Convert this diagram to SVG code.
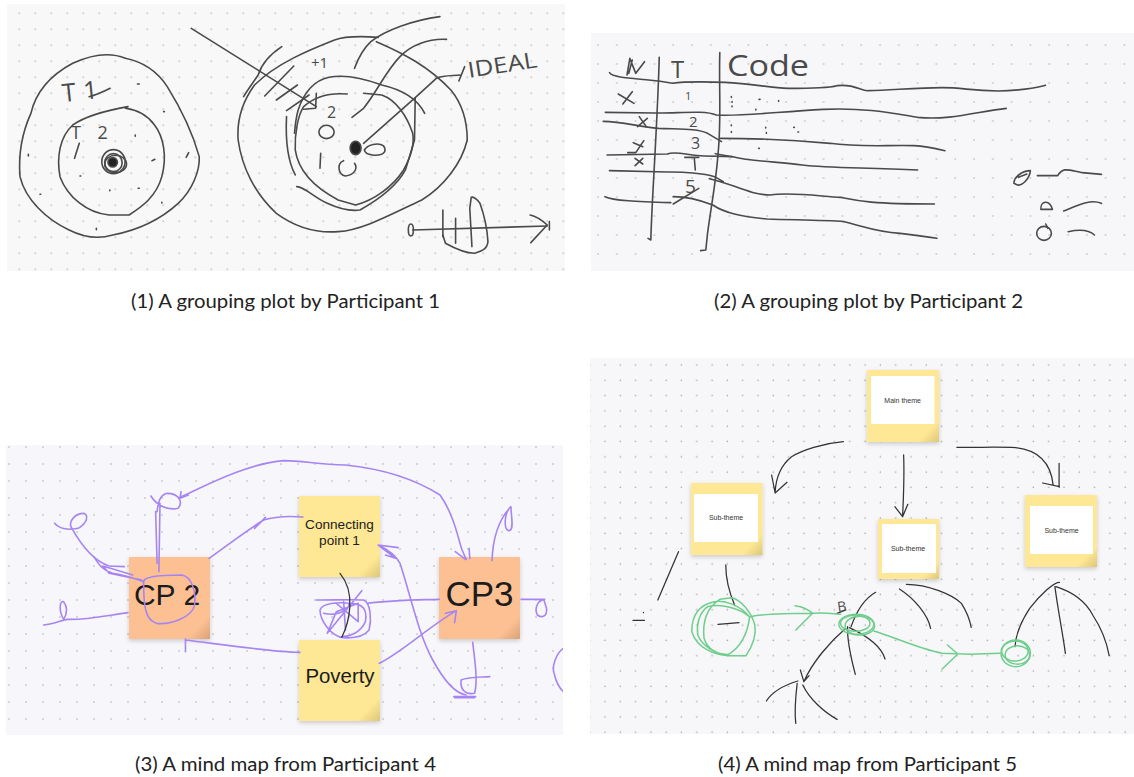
<svg xmlns="http://www.w3.org/2000/svg" width="1134" height="777" viewBox="0 0 1134 777">
<style>
.s path,.s ellipse{fill:none;vector-effect:non-scaling-stroke;stroke-linecap:round;stroke-linejoin:round}
.solid{fill:#222 !important}
.hand{stroke:#4a4a4a;stroke-width:1.6}
.k{stroke:#333;stroke-width:1.25}
.p{stroke:#a685f2;stroke-width:1.6}
.g{stroke:#6fce8c;stroke-width:1.5}
.ink{fill:none;vector-effect:non-scaling-stroke;stroke-linecap:round}
.cap{font-family:"Lato","Open Sans",sans-serif;font-size:18.5px;fill:#222}
.lab{font-family:"Liberation Sans",Arial,sans-serif;fill:#1c1c1c;text-anchor:middle}
.sub{font-family:"Liberation Sans",Arial,sans-serif;font-size:7px;fill:#333;text-anchor:middle}
.w{font-family:"Open Sans","Liberation Sans",sans-serif;font-weight:400;fill:#4a4a4a}
</style>
<defs>
<pattern id="d1" patternUnits="userSpaceOnUse" x="11.3" y="5.3" width="16" height="16"><circle cx="8" cy="8" r=".8" fill="#aaa"/></pattern>
<pattern id="d2" patternUnits="userSpaceOnUse" x="589" y="36" width="18.8" height="19"><circle cx="9" cy="9" r=".8" fill="#aaaaaf"/></pattern>
<pattern id="d3" patternUnits="userSpaceOnUse" x="1" y="439" width="17" height="17"><circle cx="8" cy="8" r=".8" fill="#aaaab2"/></pattern>
<pattern id="d4" patternUnits="userSpaceOnUse" x="597" y="357" width="15.3" height="15.3"><circle cx="8" cy="8" r=".8" fill="#aaaaaf"/></pattern>
<linearGradient id="fo" x1="0" y1="0" x2="1" y2="1"><stop offset=".85" stop-color="#fcc093"/><stop offset="1" stop-color="#d9a277"/></linearGradient>
<linearGradient id="fy" x1="0" y1="0" x2="1" y2="1"><stop offset=".85" stop-color="#fee795"/><stop offset="1" stop-color="#dcc878"/></linearGradient>
<filter id="sh" x="-10%" y="-10%" width="120%" height="125%"><feDropShadow dx="0" dy="2" stdDeviation="2" flood-color="#000" flood-opacity=".18"/></filter>
<clipPath id="c3"><rect x="6" y="445" width="557" height="290"/></clipPath>
</defs>
<rect width="1134" height="777" fill="#fff"/>

<g id="panel-1">
<rect x="7" y="4" width="558" height="267" fill="#f8f8f8"/>
<rect x="7" y="4" width="558" height="267" fill="url(#d1)"/>
<g class="s hand" transform="scale(.3636 .3333)">
<path d="M345 175C300 155 250 165 200 190C140 225 100 270 85 340C60 400 50 460 55 530C70 600 130 660 190 690C230 712 270 718 310 705C380 690 440 660 490 610C530 570 550 510 548 470C530 400 500 330 460 260C430 210 390 185 345 175"/>
<path d="M352 320C300 330 240 345 200 375C165 410 155 470 165 530C185 590 240 640 300 645H355C390 620 430 590 445 530C460 470 450 410 425 375C405 345 380 330 345 325"/>
<path d="M245 290C265 285 285 275 303 265M218 430L205 475"/>
<ellipse cx="312" cy="485" rx="32" ry="36"/><ellipse cx="312" cy="488" rx="24" ry="27"/><ellipse cx="318" cy="492" rx="30" ry="26"/><ellipse class="solid" cx="310" cy="487" rx="13" ry="14"/>
<path d="M378 252h5M78 463v5M372 405v4M418 482l8-4M512 472l7-14M220 528h2M302 570v2M380 565h3M445 607v2M110 583h2M265 685v4M450 335h2"/>
<path d="M1040 112C990 108 950 108 920 120C850 150 760 190 700 255C670 300 650 350 655 420C665 500 700 580 760 640C810 680 870 700 930 695C1000 690 1080 640 1160 600C1220 560 1270 490 1285 420C1285 360 1270 310 1240 270C1180 200 1110 160 1035 125"/>
<path d="M1168 340C1150 300 1110 270 1050 255C1000 235 950 222 905 232C870 240 840 265 820 330C815 350 812 370 810 400"/>
<path d="M788 350C785 420 790 480 812 525"/>
<path d="M955 282C910 278 870 285 835 320C820 345 810 400 812 450C820 510 860 560 930 600L978 615C1030 600 1080 560 1110 510C1130 470 1140 430 1135 400C1120 350 1090 300 1050 285L1000 280"/>
<path d="M816 560C840 562 860 590 900 610C930 625 960 635 990 630C1040 600 1090 560 1115 510L1140 420L1142 293"/>
<path d="M1000 430L1142 293L1200 235C1220 225 1250 228 1265 225M1262 243L1278 200"/>
<path d="M526 85L870 320M870 280L868 325L835 328"/>
<path d="M775 140C740 165 720 190 710 225C695 250 680 270 670 290M808 198L728 288M818 255L760 300M850 285L788 332"/>
<path d="M1210 50C1140 60 1060 90 1020 125C1000 145 985 175 975 205M1228 118C1180 115 1130 135 1100 170C1060 215 1040 270 1000 325L968 352"/>
<ellipse cx="898" cy="396" rx="21" ry="20"/><path d="M1055 438C1040 425 1010 435 1002 450C1005 470 1050 470 1058 455C1060 448 1058 442 1055 438"/>
<path d="M882 460L880 505M945 482C925 490 930 525 950 528C975 525 985 505 975 490"/>
<ellipse class="solid" cx="978" cy="444" rx="15" ry="20"/>
<path d="M1135 690L1505 678"/><ellipse cx="1130" cy="690" rx="7" ry="18"/>
<path d="M1458 645C1480 650 1495 665 1505 675L1460 728M1511 665V690M1218 630V710M1253 655V730"/>
<path d="M1218 705L1225 730C1250 745 1280 760 1305 760C1320 755 1340 750 1342 725C1340 690 1330 640 1320 610C1310 595 1300 590 1296 592L1292 625L1298 740"/>
</g>
<text class="w" x="63" y="102" font-size="25" word-spacing="1" transform="rotate(-6 63 102)">T 1</text>
<text class="w" x="71" y="139" font-size="18" word-spacing="12">T 2</text>
<text class="w" x="311" y="68" font-size="15">+1</text>
<text class="w" x="327" y="118" font-size="16">2</text>
<text class="w" x="469" y="78" font-size="22" textLength="70" lengthAdjust="spacingAndGlyphs" transform="rotate(-9 469 78)">IDEAL</text>
</g>

<g id="panel-2">
<rect x="591" y="33" width="543" height="238" fill="#f7f7f9"/>
<rect x="591" y="33" width="543" height="238" fill="url(#d2)"/>
<g class="s hand" transform="translate(585 20) scale(.35014 .33333)">
<path d="M212 112C210 200 205 300 200 400C195 500 190 580 188 660L180 655"/>
<path d="M385 98C382 200 390 300 380 400C375 480 360 560 350 640L345 690L330 692"/>
<path d="M70 158C80 175 150 175 210 183L250 190C280 185 340 185 400 187C480 190 530 205 580 205C630 205 690 205 720 197C770 190 790 215 810 212C880 210 950 203 1020 203C1080 203 1100 212 1180 213C1230 212 1290 205 1315 196"/>
<path d="M58 277L200 279C270 280 340 270 375 285C450 290 550 275 680 268C800 262 880 280 950 292C1040 302 1120 275 1203 265"/>
<path d="M52 304C110 305 150 320 210 325C270 328 320 325 350 340L390 365"/>
<path d="M385 355C480 355 600 360 700 370C780 382 860 375 940 377C970 378 1000 385 1028 392"/>
<path d="M63 405L235 402C260 392 300 408 340 408L422 410C480 425 550 425 620 435C700 445 800 442 950 450"/>
<path d="M372 401L420 410"/>
<path d="M70 452L235 456C280 455 340 460 370 470L395 485M355 476C420 490 470 525 530 525C590 515 680 530 730 532C770 540 800 552 998 552"/>
<path d="M57 530C80 542 150 545 245 548M252 530C300 530 340 545 365 555C400 580 450 590 520 597C600 600 680 600 740 605C800 620 830 635 900 640C940 645 975 650 1005 655"/>
<path d="M95 222L140 250M135 215L108 252M150 320L178 295M155 290L175 320M138 368L165 380M168 362L145 398L122 398M143 415L165 432M165 415L143 437"/>
<path d="M120 165L128 115L145 160L170 125M135 120L125 160"/>
<path d="M285 412H325M312 412L315 450"/>
<path d="M252 552L325 505"/>
<path d="M1225 490C1225 470 1250 452 1272 452C1270 475 1250 498 1235 495ZM1238 472L1262 462M1292 467L1350 467C1365 440 1380 450 1420 458L1475 463"/>
<path d="M1302 568C1300 545 1325 535 1335 568ZM1367 573C1400 560 1440 535 1475 550"/>
<ellipse cx="1311" cy="640" rx="21" ry="21"/><path d="M1316 612L1322 625M1380 635C1410 628 1440 630 1455 645"/>
<path d="M418 230v2M420 245v2M420 258v2M497 238h3M553 242v2M488 268v2M418 315v2M418 335v2M516 322v2M518 338v2M596 322h2M608 336h2M496 385h2"/>
</g>
<text class="w" x="671" y="78" font-size="24">T</text>
<text class="w" x="727" y="76" font-size="30" textLength="82" lengthAdjust="spacingAndGlyphs">Code</text>
<text class="w" x="685" y="100" font-size="11">1</text>
<text class="w" x="689" y="127" font-size="15">2</text>
<text class="w" x="691" y="149" font-size="16">3</text>
<text class="w" x="685" y="193" font-size="19">5</text>
</g>

<g id="panel-3">
<rect x="6" y="445" width="557" height="290" fill="#f7f7fb"/>
<rect x="6" y="445" width="557" height="290" fill="url(#d3)"/>
<g id="node-cp2"><rect x="129" y="557" width="81" height="82" fill="url(#fo)" filter="url(#sh)"/><text class="lab" x="167" y="605" font-size="30">CP 2</text></g>
<g id="node-connecting-point-1"><rect x="299" y="496" width="81" height="81" fill="url(#fy)" filter="url(#sh)"/><text class="lab" x="339.500" y="529" font-size="13.600">Connecting</text><text class="lab" x="339.500" y="545" font-size="13.600">point 1</text></g>
<g id="node-cp3"><rect x="439" y="557" width="81" height="82" fill="url(#fo)" filter="url(#sh)"/><text class="lab" x="479.500" y="606" font-size="35">CP3</text></g>
<g id="node-poverty"><rect x="299" y="640" width="81" height="81" fill="url(#fy)" filter="url(#sh)"/><text class="lab" x="340" y="683" font-size="20.400">Poverty</text></g>
<g id="connectors-3" clip-path="url(#c3)">
<g class="s p" transform="translate(0 440) scale(.36364 .33333)">
<path d="M495 172C560 140 680 70 780 62C830 62 870 72 950 75C1040 85 1130 110 1210 165C1240 210 1255 270 1265 310C1270 335 1280 350 1282 358M1252 335L1280 358M1290 325L1292 355"/>
<path d="M498 155L495 175L518 165"/>
<path d="M415 168C430 195 460 212 490 205C505 185 490 160 460 160C440 165 435 185 432 215M428 215L432 370M440 190L437 395"/>
<path d="M150 250C165 270 190 270 215 265C240 250 245 225 230 220C205 220 190 245 195 260C215 300 250 360 300 378L342 380"/>
<path d="M258 350C270 370 280 390 310 400C340 405 370 415 395 425M283 378L365 405M283 378L300 400L390 420"/>
<path d="M395 430C390 410 430 405 500 405C525 410 540 450 535 495C530 530 470 555 430 550C400 540 395 500 395 430"/>
<path d="M120 555C150 552 170 540 185 538C240 540 300 525 352 518M175 538C160 510 165 480 175 485C185 500 185 520 175 538"/>
<path d="M575 355C620 320 680 270 725 240C760 228 800 228 833 231M700 265L730 232"/>
<path d="M825 637C740 635 620 615 510 600M510 597L510 635"/>
<path d="M1043 670C1100 640 1180 560 1255 512M1225 520L1255 512L1250 548"/>
<path d="M1040 315C1060 325 1085 340 1100 370C1130 470 1150 580 1190 660C1220 720 1250 760 1282 765M1040 315L1095 323M1040 315L1088 355L1060 345"/>
<path d="M1248 770H1308M1250 773H1305M1300 607C1305 660 1315 720 1305 760C1280 765 1265 750 1268 720C1290 710 1320 712 1347 710"/>
<path d="M1353 362C1355 300 1370 240 1405 200C1385 220 1385 270 1400 272C1415 270 1405 225 1405 200"/>
<path d="M1433 478H1495M1498 478C1475 480 1470 510 1478 525C1490 535 1505 530 1503 505L1495 478"/>
<path d="M1549 625C1530 640 1515 680 1525 705C1530 730 1540 745 1549 755"/>
<path d="M1208 478C1150 480 1080 480 1010 490M870 480C920 480 980 478 1000 480C1020 490 1022 540 1015 570C1000 590 970 595 945 593C910 590 880 540 880 510C885 490 930 485 960 490C1000 490 1010 510 1005 545C990 580 960 590 940 590M925 490L985 545L985 490L925 515L900 580L995 452M890 520C930 530 960 510 960 490M945 485L950 570"/>
</g>
<g class="s k" transform="translate(0 440) scale(.36364 .33333)"><path d="M935 400C950 420 965 450 962 500C960 540 950 570 940 592"/></g>
</g>
</g>

<g id="panel-4">
<rect x="590" y="358" width="544" height="376" fill="#f7f7fa"/>
<rect x="590" y="358" width="544" height="376" fill="url(#d4)"/>
<g id="node-main-theme"><rect x="867" y="370" width="72" height="72" fill="url(#fy)" filter="url(#sh)"/><rect x="871" y="376" width="63.500" height="48" fill="#fff"/><text class="sub" x="902.600" y="402.500">Main theme</text></g>
<g id="node-sub-theme-1"><rect x="691" y="483" width="71.500" height="72" fill="url(#fy)" filter="url(#sh)"/><rect x="694" y="494" width="64" height="48" fill="#fff"/><text class="sub" x="726" y="519.500">Sub-theme</text></g>
<g id="node-sub-theme-2"><rect x="878" y="519" width="61" height="60" fill="url(#fy)" filter="url(#sh)"/><rect x="882" y="524" width="54" height="49" fill="#fff"/><text class="sub" x="908" y="550.500">Sub-theme</text></g>
<g id="node-sub-theme-3"><rect x="1025" y="495" width="72" height="72" fill="url(#fy)" filter="url(#sh)"/><rect x="1030" y="506" width="63" height="48" fill="#fff"/><text class="sub" x="1061.500" y="532.500">Sub-theme</text></g>
<g id="connectors-4">
<g class="s k" transform="translate(585 355) scale(.35014 .33333)">
<path d="M738 260C680 265 620 285 590 305C560 330 545 370 543 412M533 360L543 414L577 382"/>
<path d="M910 300C912 350 910 420 907 485M885 455L907 485L922 448"/>
<path d="M1062 277C1120 278 1180 275 1230 278C1290 285 1330 320 1337 390M1307 384L1355 395M1354 325V397"/>
<path d="M267 590L208 735M137 796H170M167 772v1"/>
<path d="M402 630C402 670 415 720 428 752M380 808L440 803"/>
<path d="M830 712C800 730 775 770 760 815M745 820C700 860 650 920 625 980M615 945L625 980L640 962"/>
<path d="M750 815C748 860 760 910 772 958M755 818C800 840 845 870 857 912"/>
<path d="M898 702C940 730 980 780 987 820M918 688C980 688 1050 720 1075 745C1090 770 1100 800 1103 817"/>
<path d="M1355 682C1340 680 1300 720 1270 760C1245 800 1230 840 1228 875M1342 695C1350 760 1365 840 1372 895M1345 695C1390 710 1430 740 1450 780C1475 820 1490 860 1497 902"/>
<path d="M608 978C570 990 535 1010 518 1038M606 985C602 1020 598 1070 602 1105M622 990C640 1030 680 1070 720 1093"/>
<path d="M720 775L745 765"/>
</g>
<g class="s g" transform="translate(585 355) scale(.35014 .33333)">
<path d="M470 785C440 750 400 735 370 740C320 750 305 790 305 830C320 880 370 900 410 902L460 902C480 870 490 840 485 810C475 770 445 735 420 728L385 733C345 760 335 800 340 850C350 885 380 900 410 898C440 880 465 840 470 785C440 760 390 745 350 755C325 775 318 810 322 840C335 875 375 895 400 900"/>
<path d="M472 785C520 775 580 775 650 775C680 772 700 775 730 778M600 752C620 755 640 765 650 775L602 825"/>
<ellipse cx="775" cy="808" rx="50" ry="30"/><ellipse cx="772" cy="805" rx="42" ry="24"/><ellipse cx="785" cy="812" rx="42" ry="28"/>
<path d="M825 828C880 845 950 880 1020 895L1100 898L1185 895M1035 870L1065 897L1020 942"/>
<ellipse cx="1230" cy="895" rx="42" ry="40"/><ellipse cx="1228" cy="888" rx="38" ry="30"/><ellipse cx="1235" cy="900" rx="35" ry="28"/>
</g>
</g>
<text class="w" x="838" y="612" font-size="14" transform="rotate(-8 838 612)">B</text>
</g>

<text id="caption-1" class="cap" x="131" y="308" textLength="309" lengthAdjust="spacingAndGlyphs">(1) A grouping plot by Participant 1</text>
<text id="caption-2" class="cap" x="714" y="308" textLength="309" lengthAdjust="spacingAndGlyphs">(2) A grouping plot by Participant 2</text>
<text id="caption-3" class="cap" x="135" y="771" textLength="301" lengthAdjust="spacingAndGlyphs">(3) A mind map from Participant 4</text>
<text id="caption-4" class="cap" x="718" y="771" textLength="299" lengthAdjust="spacingAndGlyphs">(4) A mind map from Participant 5</text>
</svg>
